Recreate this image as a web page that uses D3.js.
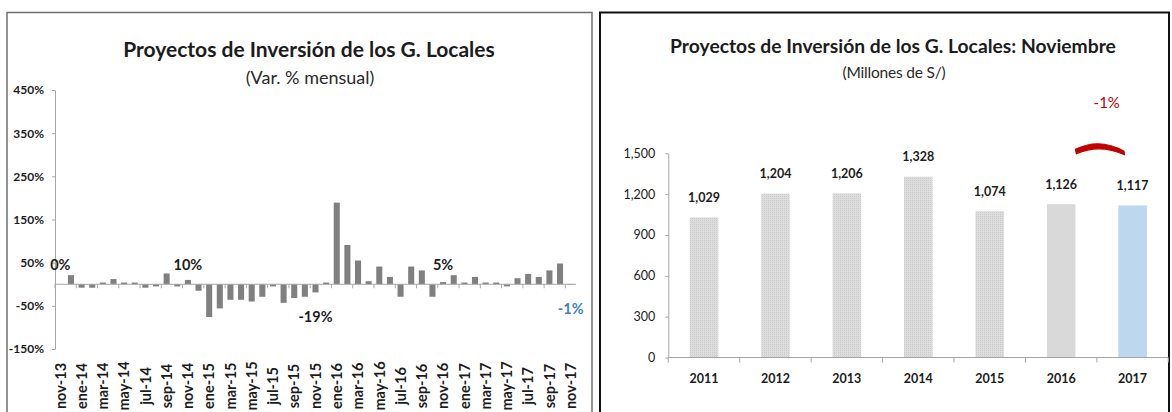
<!DOCTYPE html>
<html>
<head>
<meta charset="utf-8">
<script src="https://cdn.jsdelivr.net/npm/d3@7"></script>
<style>
  html, body { margin: 0; padding: 0; background: #fff; }
  svg { display: block; font-family: Lato, "Open Sans", sans-serif; }
</style>
</head>
<body>
<svg id="chart" width="1172" height="412"></svg>
<script>
// Monthly % variation of local-government investment projects, nov-13 .. nov-17
const months = [
  "nov-13","dic-13","ene-14","feb-14","mar-14","abr-14","may-14","jun-14","jul-14","ago-14","sep-14","oct-14",
  "nov-14","dic-14","ene-15","feb-15","mar-15","abr-15","may-15","jun-15","jul-15","ago-15","sep-15","oct-15",
  "nov-15","dic-15","ene-16","feb-16","mar-16","abr-16","may-16","jun-16","jul-16","ago-16","sep-16","oct-16",
  "nov-16","dic-16","ene-17","feb-17","mar-17","abr-17","may-17","jun-17","jul-17","ago-17","sep-17","oct-17",
  "nov-17"
];
const monthlyVar = [
  0, 21, -8, -8, 4, 12, 4, 4, -8, -5, 25, -5,
  10, -15, -76, -56, -36, -36, -40, -29, -5, -43, -32, -29,
  -19, 4, 189, 91, 55, 7, 41, 17, -29, 41, 32, -29,
  5, 21, 4, 17, 4, 4, -5, 14, 24, 17, 32, 48,
  -1
];
const monthAxisLabels = months.filter((d, i) => i % 2 === 0);
const labelledMonths = ["nov-13", "nov-14", "nov-15", "nov-16", "nov-17"];
const pctTicks = [-150, -50, 50, 150, 250, 350, 450];

// November amounts (millions of soles)
const years = ["2011", "2012", "2013", "2014", "2015", "2016", "2017"];
const novAmounts = [1029, 1204, 1206, 1328, 1074, 1126, 1117];
const amountTicks = [0, 300, 600, 900, 1200, 1500];

// number formats with a plain hyphen as minus sign
const loc = d3.formatLocale({ decimal: ".", thousands: ",", grouping: [3], currency: ["", ""], minus: "-" });
const fmtInt = loc.format("d");
const fmtThousands = loc.format(",");
const fmtPct = loc.format(".0%");

const svg = d3.select("#chart");
const FONT = 'Lato, "Open Sans", sans-serif';
const INK = "#1c1c1c";

// ---------- panel frames ----------
svg.append("rect").attr("x", 7).attr("y", 12.5).attr("width", 585).attr("height", 420)
  .attr("fill", "none").attr("stroke", "#707070").attr("stroke-width", 1.5);
svg.append("rect").attr("x", 600).attr("y", 12.5).attr("width", 569).attr("height", 420)
  .attr("fill", "none").attr("stroke", "#111").attr("stroke-width", 2);

// ---------- left chart: monthly variation ----------
const left = svg.append("g");
const xL = d3.scaleBand().domain(months).range([55, 576]).paddingInner(0.43).paddingOuter(0.215);
const yL = d3.scaleLinear().domain([-150, 450]).range([349, 90]);

left.append("text").attr("x", 309).attr("y", 57).attr("text-anchor", "middle")
  .attr("font-size", 21).attr("font-weight", "bold").attr("fill", INK)
  .text("Proyectos de Inversión de los G. Locales");
left.append("text").attr("x", 310).attr("y", 84).attr("text-anchor", "middle")
  .attr("font-size", 18).attr("fill", "#2a2a2a")
  .text("(Var. % mensual)");

const yAxisL = left.append("g").attr("transform", "translate(55,0)")
  .call(d3.axisLeft(yL).tickValues(pctTicks).tickFormat(d => fmtInt(d) + "%")
    .tickSize(3).tickSizeOuter(0).tickPadding(8));
yAxisL.select(".domain").attr("stroke", "#a6a6a6");
yAxisL.selectAll(".tick line").attr("stroke", "#a6a6a6");
yAxisL.selectAll(".tick text").attr("font-family", FONT).attr("font-size", 12)
  .attr("font-weight", "bold").attr("fill", INK);

// bars
left.append("g").selectAll("rect").data(months).join("rect")
  .attr("x", d => xL(d))
  .attr("width", xL.bandwidth())
  .attr("y", (d, i) => yL(Math.max(0, monthlyVar[i])))
  .attr("height", (d, i) => Math.abs(yL(monthlyVar[i]) - yL(0)))
  .attr("fill", (d, i) => i === months.length - 1 ? "#4a86cc" : "#808080");

// zero line and category ticks
left.append("line").attr("x1", xL.range()[0]).attr("x2", xL.range()[1])
  .attr("y1", yL(0)).attr("y2", yL(0)).attr("stroke", "#a6a6a6");
left.append("g").selectAll("line").data(monthAxisLabels).join("line")
  .attr("x1", d => xL(d) - xL.step() * xL.paddingInner() / 2)
  .attr("x2", d => xL(d) - xL.step() * xL.paddingInner() / 2)
  .attr("y1", yL(0)).attr("y2", yL(0) + 4).attr("stroke", "#a6a6a6");

// rotated month labels
left.append("g").selectAll("text").data(monthAxisLabels).join("text")
  .attr("transform", d => `translate(${xL(d) + xL.bandwidth() / 2},386) rotate(-90)`)
  .attr("text-anchor", "middle").attr("dy", "0.36em")
  .attr("font-size", 14.5).attr("font-weight", "bold").attr("fill", INK)
  .text(d => d);

// value annotations on the November bars
left.append("g").selectAll("text").data(labelledMonths).join("text")
  .each(function (m) {
    const v = monthlyVar[months.indexOf(m)];
    const cx = xL(m) + xL.bandwidth() / 2;
    const cy = v >= 0 ? yL(0) - 19 : yL(v) + 24;
    d3.select(this).attr("x", cx).attr("y", cy).attr("dy", "0.36em")
      .attr("text-anchor", "middle").attr("font-size", 14.5).attr("font-weight", "bold")
      .attr("fill", m === "nov-17" ? "#3f7fc6" : INK)
      .text(fmtInt(v) + "%");
  });

// ---------- right chart: November amounts ----------
const right = svg.append("g");
const xR = d3.scaleBand().domain(years).range([668.3, 1168.3]).paddingInner(0.6).paddingOuter(0.3);
const yR = d3.scaleLinear().domain([0, 1500]).range([357.5, 153.3]);

const defs = svg.append("defs");
const pat = defs.append("pattern").attr("id", "stipple").attr("patternUnits", "userSpaceOnUse")
  .attr("width", 2).attr("height", 2);
pat.append("rect").attr("width", 2).attr("height", 2).attr("fill", "#dddddd");
pat.append("rect").attr("width", 1).attr("height", 1).attr("fill", "#cbcbcb");

right.append("text").attr("x", 893).attr("y", 53).attr("text-anchor", "middle")
  .attr("font-size", 19.3).attr("font-weight", "bold").attr("fill", INK)
  .text("Proyectos de Inversión de los G. Locales: Noviembre");
right.append("text").attr("x", 894).attr("y", 78).attr("text-anchor", "middle")
  .attr("font-size", 15.5).attr("fill", "#2a2a2a").attr("letter-spacing", -0.2)
  .text("(Millones de S/)");

const yAxisR = right.append("g").attr("transform", "translate(668.3,0)")
  .call(d3.axisLeft(yR).tickValues(amountTicks).tickFormat(fmtThousands)
    .tickSize(3).tickSizeOuter(0).tickPadding(10));
yAxisR.select(".domain").attr("stroke", "#a6a6a6");
yAxisR.selectAll(".tick line").attr("stroke", "#a6a6a6");
yAxisR.selectAll(".tick text").attr("font-family", FONT).attr("font-size", 12.5)
  .attr("fill", INK);

right.append("g").selectAll("rect").data(years).join("rect")
  .attr("x", d => xR(d)).attr("width", xR.bandwidth())
  .attr("y", (d, i) => yR(novAmounts[i]))
  .attr("height", (d, i) => yR(0) - yR(novAmounts[i]))
  .attr("fill", (d, i) => i === years.length - 1 ? "#bdd7ee" : (i === years.length - 2 ? "#d9d9d9" : "url(#stipple)"));

// baseline and category ticks
right.append("line").attr("x1", xR.range()[0]).attr("x2", xR.range()[1])
  .attr("y1", yR(0)).attr("y2", yR(0)).attr("stroke", "#a6a6a6");
right.append("g").selectAll("line").data(d3.range(years.length + 1)).join("line")
  .attr("x1", i => xR.range()[0] + i * xR.step()).attr("x2", i => xR.range()[0] + i * xR.step())
  .attr("y1", yR(0)).attr("y2", yR(0) + 5).attr("stroke", "#a6a6a6");

right.append("g").selectAll("text").data(years).join("text")
  .attr("x", d => xR(d) + xR.bandwidth() / 2).attr("y", 378).attr("dy", "0.36em")
  .attr("text-anchor", "middle").attr("font-size", 12.5).attr("font-weight", "bold").attr("fill", INK)
  .text(d => d);

right.append("g").selectAll("text").data(years).join("text")
  .attr("x", d => xR(d) + xR.bandwidth() / 2)
  .attr("y", (d, i) => yR(novAmounts[i]) - 20).attr("dy", "0.36em")
  .attr("text-anchor", "middle").attr("font-size", 12.5).attr("font-weight", "bold").attr("fill", INK)
  .text((d, i) => fmtThousands(novAmounts[i]));

// red stroke marking the 2016 -> 2017 change
const n = years.length;
const ax0 = xR(years[n - 2]) + xR.bandwidth();
const ax1 = xR(years[n - 1]) + xR.bandwidth() * 0.2;
const axm = (ax0 + ax1) / 2;
const ay = yR(1500);
const arc = d3.path();
arc.moveTo(ax0, ay - 4);
arc.quadraticCurveTo(axm, ay - 16, ax1, ay - 2);
arc.lineTo(ax1 + 0.5, ay + 1.5);
arc.quadraticCurveTo(axm, ay - 10, ax0 + 1, ay + 0.5);
arc.closePath();
right.append("path").attr("d", arc.toString()).attr("fill", "#c00000")
  .attr("stroke", "#c00000").attr("stroke-width", 1.2).attr("stroke-linejoin", "round");

const change = novAmounts[n - 1] / novAmounts[n - 2] - 1;
right.append("text").attr("x", axm + 7).attr("y", ay - 51).attr("dy", "0.36em")
  .attr("text-anchor", "middle").attr("font-size", 15).attr("fill", "#c00000")
  .text(fmtPct(change));
</script>
</body>
</html>
